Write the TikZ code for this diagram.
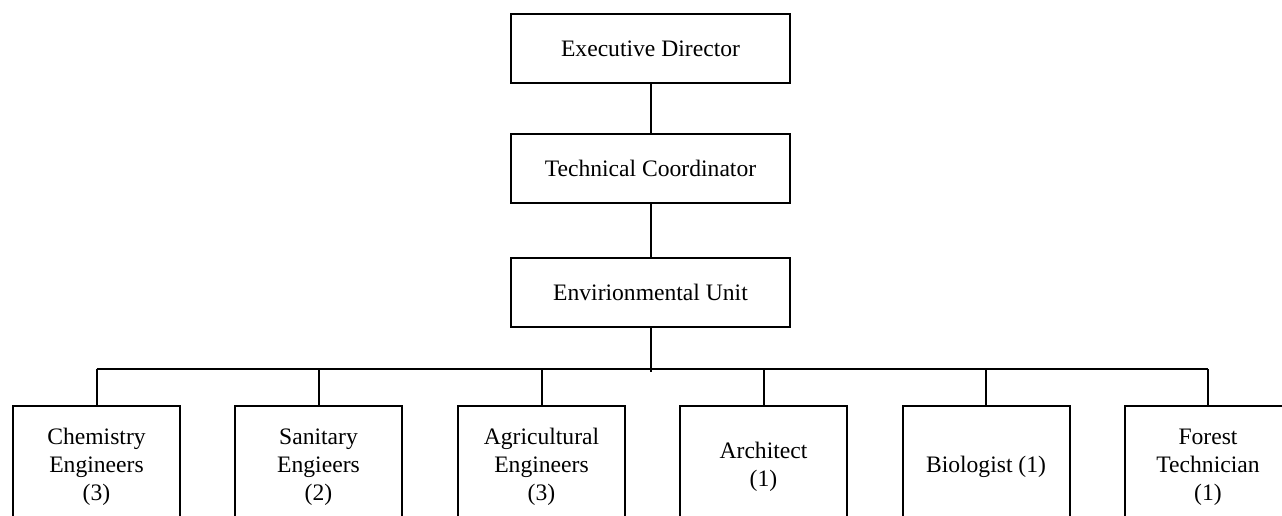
\documentclass[tikz,border=0pt]{standalone}
\usepackage{fontspec}
\setmainfont{Liberation Serif}
\begin{document}
\begin{tikzpicture}[x=0.5pt,y=-0.5pt,
  line width=1pt,
  box/.style={draw, line width=1pt, fill=white, inner sep=2pt, align=center,
    font=\fontsize{11.8}{14}\selectfont},
  topbox/.style={box, minimum width=139.5pt, minimum height=34.5pt},
  staffbox/.style={box, minimum width=83.5pt, minimum height=61pt}]
  \useasboundingbox (0,0) rectangle (1282,515);
  \clip (0,0) rectangle (1282,515);

  % management chain
  \node[topbox] (exec) at (650.5,48.5) {Executive Director};
  \node[topbox] (tech) at (650.5,168.5) {Technical Coordinator};
  \node[topbox] (env)  at (650.5,292) {Envirionmental Unit};

  % staff units
  \node[staffbox] (chem)   at (96.5,467)  {Chemistry\\Engineers\\(3)};
  \node[staffbox] (san)    at (318.5,467) {Sanitary\\Engieers\\(2)};
  \node[staffbox] (agri)   at (541.5,467) {Agricultural\\Engineers\\(3)};
  \node[staffbox] (arch)   at (763.5,467) {Architect\\(1)};
  \node[staffbox] (bio)    at (986,467)   {Biologist (1)};
  \node[staffbox] (forest) at (1208,467)  {Forest\\Technician\\(1)};

  % connectors
  \coordinate (bus) at (650.5,369);
  \draw (exec) -- (tech);
  \draw (tech) -- (env);
  \draw (env.south) -- ([yshift=-1.5pt]env.south |- bus);
  \draw (chem.north |- bus) -- (forest.north |- bus);
  \foreach \n in {chem,san,agri,arch,bio,forest}
    \draw (\n.north) -- (\n.north |- bus);
\end{tikzpicture}
\end{document}
